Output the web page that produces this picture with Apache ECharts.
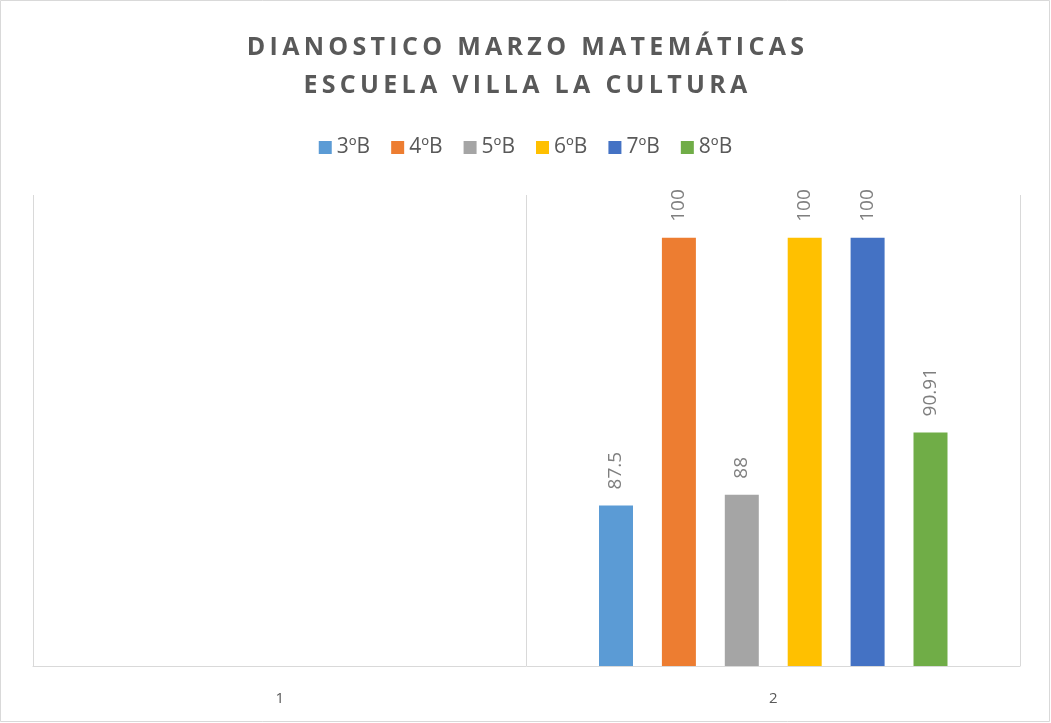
<!DOCTYPE html>
<html>
<head>
<meta charset="utf-8">
<script src="https://cdn.jsdelivr.net/npm/echarts@6/dist/echarts.min.js"></script>
<style>
  html, body { margin: 0; padding: 0; background: #fff; }
  #chart { width: 1051px; height: 723px; }
</style>
</head>
<body>
<div id="chart"></div>
<script>
// Diagnostic results per course; the first group has no data.
const categories = ['1', '2'];
const seriesNames = ['3ºB', '4ºB', '5ºB', '6ºB', '7ºB', '8ºB'];
const values3B = [null, 87.5];
const values4B = [null, 100];
const values5B = [null, 88];
const values6B = [null, 100];
const values7B = [null, 100];
const values8B = [null, 90.91];
const seriesValues = [values3B, values4B, values5B, values6B, values7B, values8B];
const colors = ['#5b9bd5', '#ed7d31', '#a5a5a5', '#ffc000', '#4472c4', '#70ad47'];

const titleLines = ['DIANOSTICO MARZO MATEMÁTICAS', 'ESCUELA VILLA LA CULTURA'];
const fontFamily = '"Open Sans", "Noto Sans", sans-serif';

// Spaced-out lettering for the title lines (canvas letterSpacing).
(function () {
  const proto = CanvasRenderingContext2D.prototype;
  const origFill = proto.fillText;
  const spaced = new Set(titleLines);
  proto.fillText = function (text, x, y, maxWidth) {
    if (spaced.has(text) && 'letterSpacing' in this) {
      const prev = this.letterSpacing;
      this.letterSpacing = '4.3px';
      const r = maxWidth === undefined ? origFill.call(this, text, x + 2, y) : origFill.call(this, text, x + 2, y, maxWidth);
      this.letterSpacing = prev;
      return r;
    }
    return maxWidth === undefined ? origFill.call(this, text, x, y) : origFill.call(this, text, x, y, maxWidth);
  };
})();

const chart = echarts.init(document.getElementById('chart'));

chart.setOption({
  animation: false,
  backgroundColor: '#ffffff',
  title: {
    text: titleLines.join('\n'),
    left: 'center',
    top: 24,
    textStyle: {
      fontFamily: fontFamily,
      fontSize: 25,
      fontWeight: 'bold',
      color: '#595959',
      lineHeight: 38
    }
  },
  legend: {
    top: 132,
    left: 'center',
    itemWidth: 13,
    itemHeight: 13,
    itemGap: 21,
    icon: 'rect',
    textStyle: { fontFamily: fontFamily, fontSize: 21, color: '#595959' },
    data: seriesNames
  },
  grid: { left: 33, right: 31, top: 195, bottom: 57 },
  xAxis: {
    type: 'category',
    data: categories,
    axisLine: { lineStyle: { color: '#d9d9d9', width: 1 } },
    axisTick: { show: false },
    splitLine: { show: true, lineStyle: { color: '#d9d9d9', width: 1 } },
    axisLabel: { fontFamily: fontFamily, fontSize: 15, color: '#595959', margin: 25 }
  },
  yAxis: {
    type: 'value',
    min: 80,
    max: 102,
    show: false,
    splitLine: { show: false }
  },
  graphic: [{
    type: 'rect',
    shape: { x: 0.5, y: 0.5, width: 1049, height: 721 },
    style: { fill: null, stroke: '#d9d9d9', lineWidth: 1 },
    silent: true
  }],
  series: seriesNames.map((name, i) => ({
    name: name,
    type: 'bar',
    data: seriesValues[i],
    barWidth: 34,
    barGap: '85%',
    itemStyle: { color: colors[i] },
    label: {
      show: true,
      position: 'top',
      rotate: 90,
      align: 'left',
      verticalAlign: 'middle',
      distance: 16,
      fontFamily: fontFamily,
      fontSize: 19,
      color: '#7f7f7f'
    }
  }))
});
</script>
</body>
</html>
